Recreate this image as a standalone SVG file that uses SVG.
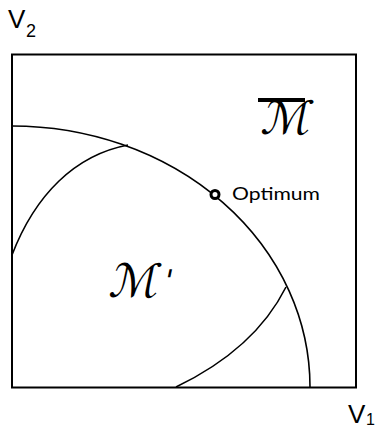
<svg xmlns="http://www.w3.org/2000/svg" width="376" height="429" viewBox="0 0 376 429">
<style>
.curve{fill:none;stroke:#000;stroke-width:1.6}
.axis{font-family:"Liberation Sans",Arial,sans-serif;fill:#000}
.cal{font-family:"DejaVu Sans",sans-serif;fill:#000}
.lbl{font-family:Lato,"Open Sans",sans-serif;fill:#000}
</style>
<rect width="376" height="429" fill="#fff"/>
<g id="frame">
<rect x="12" y="54.5" width="344" height="333" fill="none" stroke="#000" stroke-width="2"/>
</g>
<g id="connectors">
<path class="curve" d="M12,126 A298,261 0 0 1 310,387"/>
<path class="curve" d="M12,255 C35,195 75,155 128,145"/>
<path class="curve" d="M176,387 Q255,349 286,287"/>
</g>
<g id="axis-v2">
<text class="axis" x="8" y="28" font-size="26">V</text>
<text class="axis" x="26" y="37" font-size="18">2</text>
</g>
<g id="axis-v1">
<text class="axis" x="348" y="423" font-size="26">V</text>
<text class="axis" x="366" y="425" font-size="16">1</text>
</g>
<g id="m-bar">
<rect x="258" y="98" width="47" height="4" fill="#000"/>
<text class="cal" transform="translate(260,134) skewX(-12)" font-size="46">ℳ</text>
</g>
<g id="m-prime">
<text class="cal" transform="translate(108,297) skewX(-12)" font-size="46">ℳ</text>
<text class="cal" transform="translate(162,291) skewX(-12)" font-size="30">'</text>
</g>
<g id="optimum">
<circle cx="215" cy="194.5" r="4" fill="#fff" stroke="#000" stroke-width="3"/>
<text class="lbl" x="232" y="199.5" font-size="18" textLength="88" lengthAdjust="spacingAndGlyphs">Optimum</text>
</g>
</svg>
